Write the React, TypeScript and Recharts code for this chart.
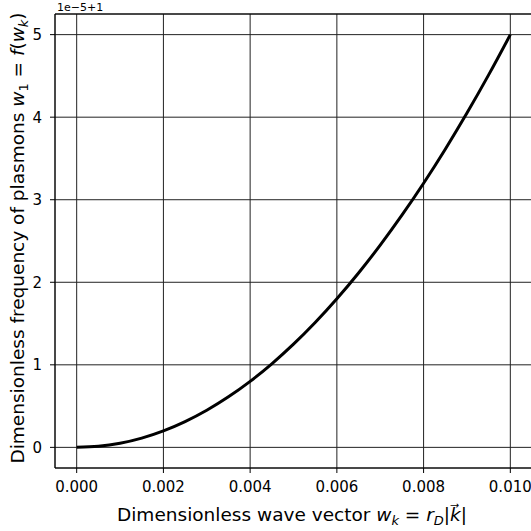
import React from 'react';
import {
    LineChart,
    Line,
    XAxis,
    YAxis,
    CartesianGrid,
    ReferenceArea,
    Label,
} from 'recharts';

// wave vector w_k
const waveVector = [
    0, 0.0005, 0.001, 0.0015, 0.002, 0.0025, 0.003, 0.0035, 0.004, 0.0045, 0.005,
    0.0055, 0.006, 0.0065, 0.007, 0.0075, 0.008, 0.0085, 0.009, 0.0095, 0.01,
];
// plasmon frequency w_1, in units of 1e-5 above 1
const frequency = [
    0, 0.0125, 0.05, 0.1125, 0.2, 0.3125, 0.45, 0.6125, 0.8, 1.0125, 1.25,
    1.5125, 1.8, 2.1125, 2.45, 2.8125, 3.2, 3.6125, 4.05, 4.5125, 5,
];
const xTicks = [0, 0.002, 0.004, 0.006, 0.008, 0.01];
const yTicks = [0, 1, 2, 3, 4, 5];

const FONT = 'DejaVu Sans, sans-serif';

const chartData = waveVector.map((x, i) => ({ x, y: frequency[i] }));

const XTitle = () => (
    <text x={292} y={521} textAnchor="middle" fontFamily={FONT} fontSize={18.5} fill="#000">
        Dimensionless wave vector{' '}
        <tspan fontStyle="italic">w</tspan>
        <tspan fontStyle="italic" fontSize={13} dy={4}>k</tspan>
        <tspan dy={-4}> = </tspan>
        <tspan fontStyle="italic">r</tspan>
        <tspan fontStyle="italic" fontSize={13} dy={4}>D</tspan>
        <tspan dy={-4}>|</tspan>
        <tspan fontStyle="italic">{'k\u20D7'}</tspan>
        <tspan>|</tspan>
    </text>
);

const YTitle = () => (
    <g>
        <text
            transform="translate(24,238) rotate(-90)"
            textAnchor="middle"
            fontFamily={FONT}
            fontSize={18.5}
            fill="#000"
        >
            Dimensionless frequency of plasmons{' '}
            <tspan fontStyle="italic">w</tspan>
            <tspan fontSize={13} dy={4}>1</tspan>
            <tspan dy={-4}> = </tspan>
            <tspan fontStyle="italic">f</tspan>
            <tspan>(</tspan>
            <tspan fontStyle="italic">w</tspan>
            <tspan fontStyle="italic" fontSize={13} dy={4}>k</tspan>
            <tspan dy={-4}>)</tspan>
        </text>
        <text x={57} y={11} fontFamily={FONT} fontSize={11} fill="#000">
            1e−5+1
        </text>
    </g>
);

export default function App() {
    return (
        <div
            style={{
                position: 'absolute',
                left: 0,
                top: 0,
                width: 531,
                height: 531,
                overflow: 'hidden',
                background: '#fff',
            }}
        >
            <LineChart
                width={541}
                height={531}
                data={chartData}
                margin={{ top: 14, right: 9, bottom: 0, left: 0 }}
            >
                <CartesianGrid stroke="#222" strokeWidth={1} />
                <XAxis
                    dataKey="x"
                    type="number"
                    domain={[-0.0005, 0.0105]}
                    ticks={xTicks}
                    tickFormatter={(v: number) => v.toFixed(3)}
                    height={63}
                    tickSize={5}
                    tickMargin={8}
                    axisLine={false}
                    tickLine={{ stroke: '#000' }}
                    tick={{ fill: '#000', fontSize: 15, fontFamily: FONT }}
                    allowDataOverflow
                >
                    <Label content={XTitle} />
                </XAxis>
                <YAxis
                    type="number"
                    domain={[-0.25, 5.25]}
                    ticks={yTicks}
                    width={55}
                    tickSize={5}
                    tickMargin={8}
                    axisLine={false}
                    tickLine={{ stroke: '#000' }}
                    tick={{ fill: '#000', fontSize: 15, fontFamily: FONT }}
                    allowDataOverflow
                >
                    <Label content={YTitle} />
                </YAxis>
                <ReferenceArea
                    x1={-0.0005}
                    x2={0.0105}
                    y1={-0.25}
                    y2={5.25}
                    fill="none"
                    stroke="#000"
                    strokeWidth={1}
                    ifOverflow="visible"
                />
                <Line
                    type="monotone"
                    dataKey="y"
                    stroke="#000"
                    strokeWidth={3}
                    dot={false}
                    isAnimationActive={false}
                />
            </LineChart>
        </div>
    );
}
